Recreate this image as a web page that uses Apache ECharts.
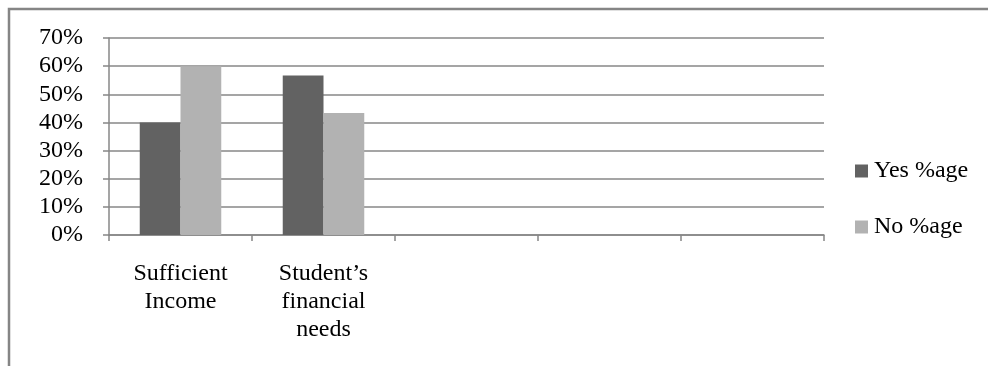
<!DOCTYPE html>
<html>
<head>
<meta charset="utf-8">
<script src="https://cdn.jsdelivr.net/npm/echarts@6/dist/echarts.min.js"></script>
<style>
  html, body { margin: 0; padding: 0; background: #ffffff; }
  #chart { width: 988px; height: 366px; }
</style>
</head>
<body>
<div id="chart"></div>
<script>
// Survey answers per statement (percent of respondents)
const categories = ['Sufficient Income', 'Student’s financial needs', '', '', ''];
const seriesNames = ['Yes %age', 'No %age'];
const yesValues = [40, 56.67, null, null, null];
const noValues = [60, 43.33, null, null, null];
const yTicks = [0, 10, 20, 30, 40, 50, 60, 70];

const FONT = '"Liberation Serif", "DejaVu Serif", serif';
const FONT_SIZE = 24;
const LINE = '#878787';

const chart = echarts.init(document.getElementById('chart'));
chart.setOption({
  backgroundColor: '#ffffff',
  animation: false,
  graphic: [{
    type: 'rect',
    shape: { x: 9, y: 9, width: 1000, height: 420 },
    style: { fill: 'none', stroke: '#858585', lineWidth: 2.5 },
    silent: true,
    z: -1
  }],
  legend: {
    orient: 'vertical',
    left: 855,
    top: 158,
    padding: 0,
    itemWidth: 13,
    itemHeight: 13,
    itemGap: 30,
    icon: 'rect',
    textStyle: { fontFamily: FONT, fontSize: FONT_SIZE, color: '#000', lineHeight: 26, padding: [0, 0, 0, 1] },
    data: seriesNames
  },
  grid: { left: 109, right: 164, top: 38, bottom: 131, containLabel: false },
  xAxis: {
    type: 'category',
    data: categories,
    boundaryGap: true,
    axisLine: { lineStyle: { color: LINE, width: 1.5 } },
    axisTick: { show: true, length: 6, alignWithLabel: false, lineStyle: { color: LINE, width: 1.5 } },
    axisLabel: {
      interval: 0,
      margin: 25,
      fontFamily: FONT,
      fontSize: FONT_SIZE,
      color: '#000',
      lineHeight: 28,
      formatter: v => v.split(' ').join('\n')
    }
  },
  yAxis: {
    type: 'value',
    min: yTicks[0],
    max: yTicks[yTicks.length - 1],
    interval: 10,
    axisLine: { show: true, lineStyle: { color: LINE, width: 1.5 } },
    axisTick: { show: true, length: 6, lineStyle: { color: LINE, width: 1.5 } },
    splitLine: { show: true, lineStyle: { color: LINE, width: 1.5 } },
    axisLabel: {
      margin: 26,
      fontFamily: FONT,
      fontSize: FONT_SIZE,
      color: '#000',
      formatter: v => v + '%'
    }
  },
  series: [
    {
      name: seriesNames[0],
      type: 'bar',
      data: yesValues,
      itemStyle: { color: '#626262' },
      barGap: '0%',
      barCategoryGap: '43%'
    },
    {
      name: seriesNames[1],
      type: 'bar',
      data: noValues,
      itemStyle: { color: '#b2b2b2' },
      barGap: '0%',
      barCategoryGap: '43%'
    }
  ]
});
</script>
</body>
</html>
